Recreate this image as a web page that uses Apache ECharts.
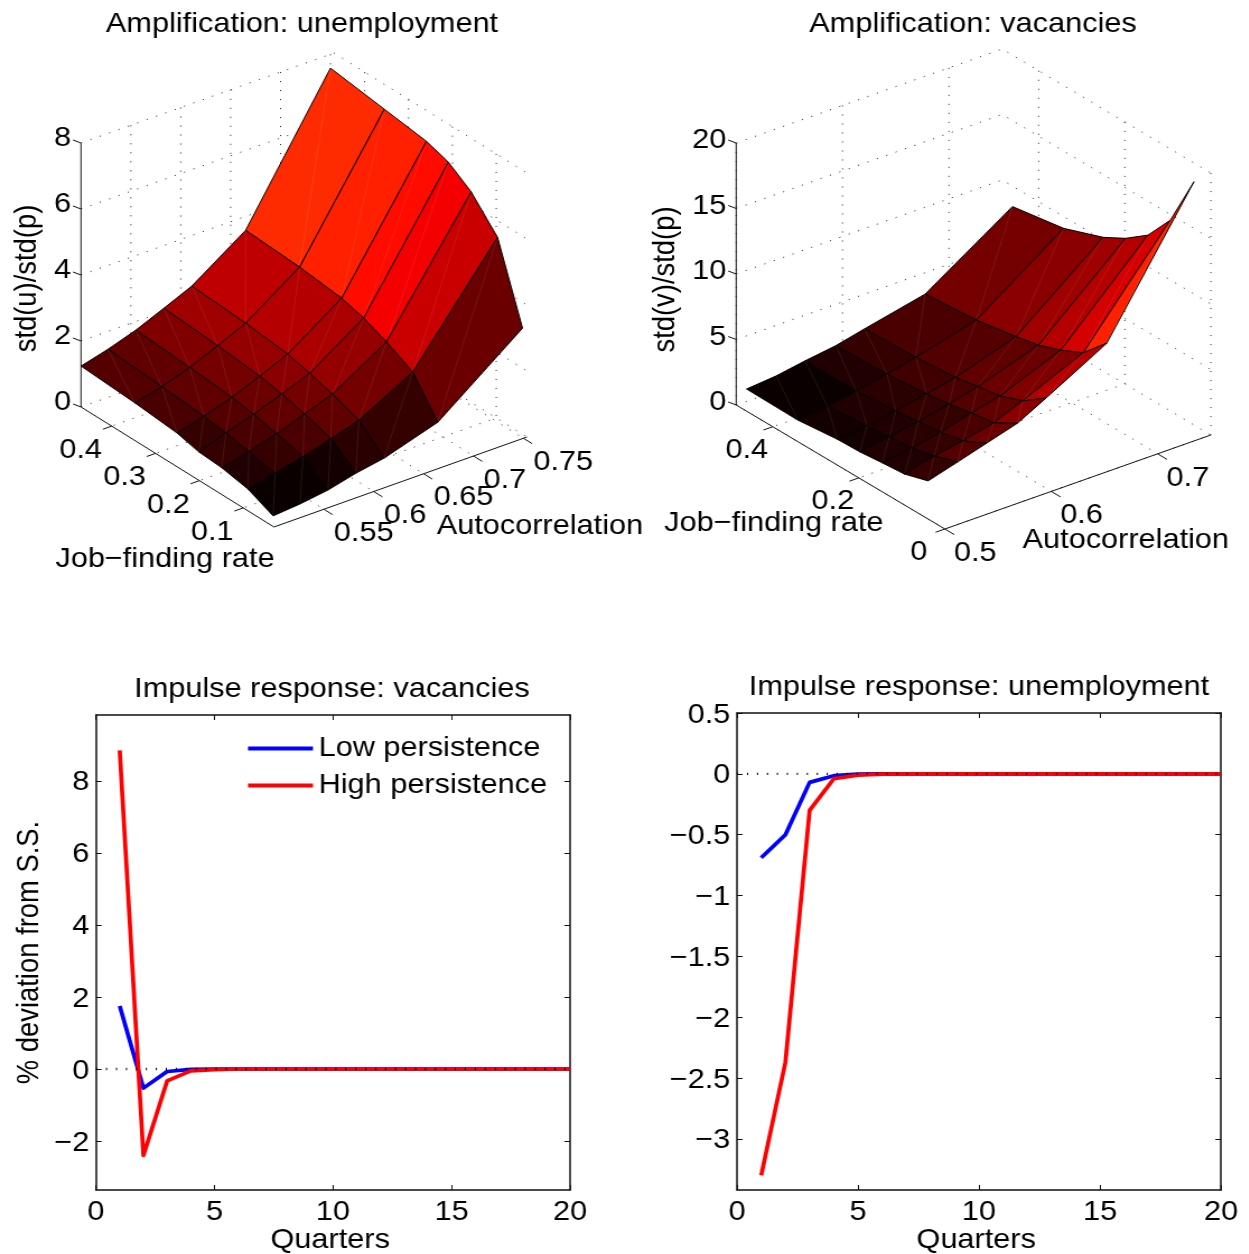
<!DOCTYPE html>
<html><head><meta charset="utf-8">
<style>html,body{margin:0;padding:0;background:#fff;overflow:hidden}
#c{width:1115.18px;height:1254px;transform:scaleX(1.12);transform-origin:0 0}</style>
<script src="https://cdn.jsdelivr.net/npm/echarts@6/dist/echarts.min.js"></script>
</head><body><div id="c"></div><script>
// ---------- data ----------
const autocorrU=[.5,.527,.555,.583,.611,.665,.750];
const jobRateU=[.47,.347,.251,.201,.149,.089,.032];
// stdU[i][j]: i = autocorrelation index, j = job-finding index
const stdU=[
[1.24,1.14,1.02,.86,.81,.66,.32],
[1.46,1.34,1.24,1.15,1.01,.85,.39],
[1.74,1.62,1.51,1.41,1.25,1.05,.51],
[2.10,1.98,1.85,1.72,1.55,1.30,.72],
[2.47,2.36,2.22,2.05,1.85,1.55,.87],
[3.58,3.48,3.33,3.14,2.85,2.43,1.38],
[7.58,7.35,7.17,6.95,6.48,5.60,3.32]];
const autocorrV=[.5,.528,.555,.584,.611,.668,.75];
const jobRateV=[.461,.342,.250,.198,.146,.094,.039];
const stdV=[
[1.69,1.64,1.97,2.03,2.21,2.36,2.91],
[1.89,1.89,2.19,2.36,2.53,2.92,3.56],
[2.26,2.28,2.56,2.75,2.95,3.31,4.21],
[2.59,2.74,3.02,3.26,3.61,3.86,4.90],
[3.10,3.25,3.50,3.82,4.12,4.76,6.05],
[4.12,4.45,4.98,5.35,5.98,6.79,8.60],
[8.44,9.10,10.21,11.15,12.41,14.57,18.58]];
const zTicksU=[0,2,4,6,8], jTicksU=[.1,.2,.3,.4], aTicksU=[.55,.6,.65,.7,.75];
const zTicksV=[0,5,10,15,20], jTicksV=[0,.2,.4], aTicksV=[.5,.6,.7];
const quarters=[1,2,3,4,5,6,7,8,9,10,11,12,13,14,15,16,17,18,19,20];
const vacLow=[1.75,-.53,-.07,-.01,0,0,0,0,0,0,0,0,0,0,0,0,0,0,0,0];
const vacHigh=[8.85,-2.4,-.33,-.05,-.02,0,0,0,0,0,0,0,0,0,0,0,0,0,0,0];
const unLow=[-.69,-.5,-.07,-.015,-.003,0,0,0,0,0,0,0,0,0,0,0,0,0,0,0];
const unHigh=[-3.3,-2.37,-.3,-.04,-.01,-.002,0,0,0,0,0,0,0,0,0,0,0,0,0,0];
const zeroX=[0,20], zeroY=[0,0];
const vacYTicks=[-2,0,2,4,6,8], unYTicks=[-3,-2.5,-2,-1.5,-1,-.5,0,.5];

// ---------- layout ----------
const S=1.12, FS=27.4, FF='"Liberation Sans",Arial,sans-serif';
const panelU={a:[.5,.7535],j:[.03,.47],zMax:8,L:[81,407],F:[274,527],R:[527,437],H:264,
  A:autocorrU,J:jobRateU,Z:stdU,zT:zTicksU,jT:jTicksU,aT:aTicksU,
  zOff:[-10,-6],jOff:[-31,23],aOff:[10,22.5],
  jName:[165,558],aName:[540,525],zName:[27,277],zTitle:'std(u)/std(p)'};
const panelV={a:[.5,.75],j:[0,.485],zMax:20,L:[736.3,405],F:[945,529],R:[1211,435],H:262,
  A:autocorrV,J:jobRateV,Z:stdV,zT:zTicksV,jT:jTicksV,aT:aTicksV,
  zOff:[-10,-4],jOff:[-26,22],aOff:[9,23],
  jName:[774,522],aName:[1126,539],zName:[666,278],zTitle:'std(v)/std(p)'};

function uvw(p,u,v,w){return [
  p.L[0]+v*(p.F[0]-p.L[0])+u*(p.R[0]-p.F[0]),
  p.L[1]+v*(p.F[1]-p.L[1])+u*(p.R[1]-p.F[1])-w*p.H];}
const uOf=(p,a)=>(a-p.a[0])/(p.a[1]-p.a[0]);
const vOf=(p,j)=>(p.j[1]-j)/(p.j[1]-p.j[0]);
function hot(f){const m=64,n=24;const k=Math.min(m,Math.floor(f*m)+1);
  const c=t=>Math.round(255*Math.max(0,Math.min(1,t)));
  return `rgb(${c(k/n)},${c((k-n)/n)},${c((k-48)/16)})`;}

function frameSeries(p){
  const segs=[];
  p.zT.forEach(z=>{const w=z/p.zMax;
    segs.push({pts:[[0,0,w],[1,0,w],[1,1,w]],dot:1});
    segs.push({pts:[[0,0,w]],tick:1,dx:[-8,-3]});});
  p.aT.forEach(a=>{const u=uOf(p,a);
    segs.push({pts:[[u,0,1],[u,0,0],[u,1,0]],dot:1});
    segs.push({pts:[[u,1,0],[u,1.045,0]]});});
  p.jT.forEach(j=>{const v=vOf(p,j);
    segs.push({pts:[[1,v,1],[1,v,0],[0,v,0]],dot:1});
    segs.push({pts:[[0,v,0],[-.035,v,0]]});});
  segs.push({pts:[[0,0,1],[0,0,0],[0,1,0],[1,1,0]]});
  return {type:'custom',coordinateSystem:'cartesian2d',xAxisIndex:0,yAxisIndex:0,silent:true,clip:false,z:1,
    data:segs.map((s,i)=>[i]),
    renderItem(params,api){const s=segs[params.dataIndex];
      let pts=s.pts.map(q=>api.coord(uvw(p,q[0],q[1],q[2])));
      if(s.tick){const b=uvw(p,...s.pts[0]);pts=[api.coord(b),api.coord([b[0]+s.dx[0],b[1]+s.dx[1]])];}
      return {type:'polyline',shape:{points:pts},style:{fill:null,stroke:s.dot?'#333':'#111',
        lineWidth:1,lineDash:s.dot?[1.1,7.9]:null}};}};
}
function surfaceSeries(p){
  const cells=[];const n=p.A.length,m=p.J.length;
  for(let i=n-2;i>=0;i--)for(let j=0;j<m-1;j++)cells.push([i,j]);
  const all=p.Z.flat(),lo=Math.min(...all),hi=Math.max(...all);
  return {type:'custom',coordinateSystem:'cartesian2d',xAxisIndex:0,yAxisIndex:0,silent:true,clip:false,z:2,
    data:cells,
    renderItem(params,api){const i=api.value(0),j=api.value(1);
      const P=(a,b)=>api.coord(uvw(p,uOf(p,p.A[a]),vOf(p,p.J[b]),p.Z[a][b]/p.zMax));
      const c=hot((p.Z[i][j+1]-lo)/(hi-lo));
      return {type:'group',children:[
        {type:'polygon',shape:{points:[P(i,j),P(i+1,j),P(i+1,j+1),P(i,j+1)]},
          style:{fill:c,stroke:'#000',lineWidth:.95,lineJoin:'round'}},
        {type:'line',shape:{x1:P(i,j+1)[0],y1:P(i,j+1)[1],x2:P(i+1,j)[0],y2:P(i+1,j)[1]},
          style:{stroke:'rgba(255,255,255,.2)',lineWidth:.45}}]};}};
}
function textSeries(p){
  const t=[];
  const push=(text,x,y,align,rot)=>t.push({text,x,y:y+1.5,align,rot});
  p.zT.forEach(z=>{const b=uvw(p,0,0,z/p.zMax);push(String(z),b[0]+p.zOff[0],b[1]+p.zOff[1],'right');});
  p.jT.forEach(j=>{const b=uvw(p,0,vOf(p,j),0);push(String(j),b[0]+p.jOff[0],b[1]+p.jOff[1],'center');});
  p.aT.forEach(a=>{const b=uvw(p,uOf(p,a),1,0);push(String(a),b[0]+p.aOff[0],b[1]+p.aOff[1],'left');});
  push('Job\u2212finding rate',p.jName[0],p.jName[1],'center');
  push('Autocorrelation',p.aName[0],p.aName[1],'center');
  push(p.zTitle,p.zName[0],p.zName[1],'center',Math.PI/2);
  return {type:'custom',coordinateSystem:'cartesian2d',xAxisIndex:0,yAxisIndex:0,silent:true,clip:false,z:3,
    data:t.map((s,i)=>[i]),
    renderItem(params,api){const s=t[params.dataIndex],q=api.coord([s.x,s.y]);
      return {type:'text',x:q[0],y:q[1],rotation:s.rot||0,
        style:{text:s.text,fontSize:FS,fontFamily:FF,fill:'#000',align:s.align,verticalAlign:'middle'}};}};
}
const minus=v=>'{t|'+String(v).replace('-','\u2212')+'}';
const lineAxis={lineStyle:{color:'#111',width:1.5}};
function xAx(grid,pos,names){return {type:'value',gridIndex:grid,position:pos,min:0,max:20,interval:5,
  axisLine:{show:true,onZero:false,...lineAxis},splitLine:{show:false},
  axisTick:{show:true,inside:true,length:5,lineStyle:{color:'#111',width:1}},
  axisLabel:{show:pos==='bottom',fontSize:FS,fontFamily:FF,color:'#000',margin:9},
  ...(names?{name:names,nameLocation:'middle',nameGap:37,nameTextStyle:{fontSize:FS,fontFamily:FF,color:'#000',padding:[0,5,0,0]}}:{})};}
function yAx(grid,pos,lo,hi,ticks,name){return {type:'value',gridIndex:grid,position:pos,min:lo,max:hi,
  axisLine:{show:true,onZero:false,...lineAxis},splitLine:{show:false},
  axisTick:{show:true,inside:true,length:5,customValues:ticks,lineStyle:{color:'#111',width:1}},
  axisLabel:{show:pos==='left',customValues:ticks,formatter:minus,margin:6,showMinLabel:true,showMaxLabel:true,
    rich:{t:{fontSize:FS,fontFamily:FF,color:'#000',padding:[4,0,0,0]}}},
  ...(name?{name,nameLocation:'middle',nameGap:46,nameRotate:90,nameMoveOverlap:false,nameTextStyle:{fontSize:FS,fontFamily:FF,color:'#000'}}:{})};}
function gridPx(l,t,r,b){return {left:l/S,top:t,width:(r-l)/S,height:b-t,containLabel:false,outerBoundsMode:'none'};}
function line(name,xi,yi,ys,color){return {type:'line',name,xAxisIndex:xi,yAxisIndex:yi,showSymbol:false,symbol:'none',z:4,
  data:quarters.map((q,k)=>[q,ys[k]]),lineStyle:{color,width:3.7,join:'round'},itemStyle:{color},silent:true};}
function zero(xi,yi){return {type:'line',xAxisIndex:xi,yAxisIndex:yi,symbol:'none',z:5,silent:true,
  data:zeroX.map((x,k)=>[x,zeroY[k]]),lineStyle:{color:'#000',width:2.4,type:[1,7.9]}};}
function head(text,cx,cy){return {text,left:cx/S,top:cy,textAlign:'center',textVerticalAlign:'middle',padding:0,
  textStyle:{fontSize:FS,fontWeight:'normal',fontFamily:FF,color:'#000'}};}

const chart=echarts.init(document.getElementById('c'),null,{renderer:'canvas'});
chart.setOption({animation:false,backgroundColor:'#fff',
  title:[head('Amplification: unemployment',302,24.5),head('Amplification: vacancies',973,24.5),
         head('Impulse response: vacancies',332,689.5),head('Impulse response: unemployment',979,687.5)],
  grid:[{left:0,top:0,right:0,bottom:0,outerBoundsMode:'none'},gridPx(96,715,570,1190),gridPx(737,713,1221,1190)],
  xAxis:[{type:'value',gridIndex:0,min:0,max:1249,show:false},
    xAx(1,'bottom','Quarters'),xAx(1,'top'),xAx(2,'bottom','Quarters'),xAx(2,'top')],
  yAxis:[{type:'value',gridIndex:0,min:0,max:1254,inverse:true,show:false},
    yAx(1,'left',-3.36,9.83,vacYTicks,'% deviation from S.S.'),yAx(1,'right',-3.36,9.83,vacYTicks),
    yAx(2,'left',-3.42,.5,unYTicks),yAx(2,'right',-3.42,.5,unYTicks)],
  legend:{data:['Low persistence','High persistence'],icon:'rect',orient:'vertical',left:248/S,top:735,padding:0,itemWidth:65/S,itemHeight:4,itemGap:10,
    textStyle:{fontSize:FS,fontFamily:FF,color:'#000'},selectedMode:false},
  series:[frameSeries(panelU),surfaceSeries(panelU),textSeries(panelU),
    frameSeries(panelV),surfaceSeries(panelV),textSeries(panelV),
    line('Low persistence',1,1,vacLow,'#00f'),line('High persistence',1,1,vacHigh,'#f00'),zero(1,1),
    line('Low persistence',3,3,unLow,'#00f'),line('High persistence',3,3,unHigh,'#f00'),zero(3,3)]
});
</script></body></html>
